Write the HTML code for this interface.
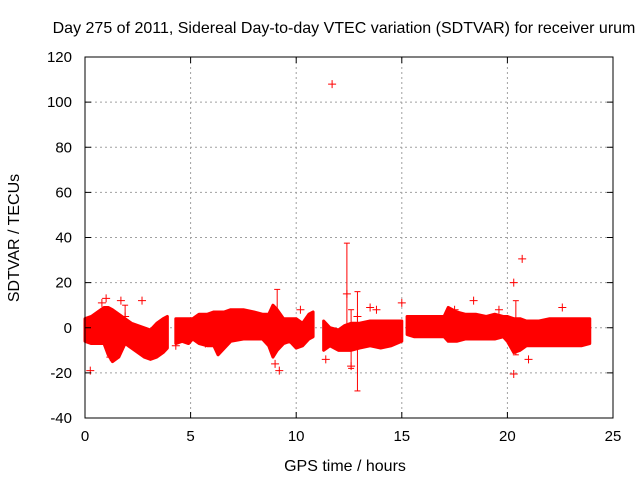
<!DOCTYPE html>
<html><head><meta charset="utf-8"><style>
body{margin:0;background:#fff;}
svg{display:block;font-family:"Liberation Sans",sans-serif;}
</style></head><body>
<svg id="chart" width="640" height="480">
<text x="344" y="33" font-size="16" text-anchor="middle">Day 275 of 2011, Sidereal Day-to-day VTEC variation (SDTVAR) for receiver urum</text>
<text x="345" y="471" font-size="16" text-anchor="middle">GPS time / hours</text>
<text transform="translate(19,238) rotate(-90)" font-size="16" text-anchor="middle">SDTVAR / TECUs</text>
<g id="grid"></g><g id="marks"></g><g id="axes"></g>
</svg>
<script>
const xTicks=[0,5,10,15,20,25];
const yTicks=[-40,-20,0,20,40,60,80,100,120];
const bandTimes=[0,0.3,0.6,0.9,1.1,1.3,1.6,1.9,2.2,2.5,2.8,3.1,3.4,3.7,3.9,4.0,4.3,4.6,4.9,5.1,5.4,5.8,6.1,6.3,6.6,6.9,7.5,8.0,8.4,8.7,8.9,9.1,9.4,9.7,10.0,10.3,10.6,10.8,10.9,11.3,11.6,12.0,12.3,12.6,13.0,13.5,14.0,14.5,15.0,15.1,15.25,15.6,16.0,16.5,17.0,17.2,17.6,18.0,18.5,19.0,19.4,19.8,20.0,20.3,20.6,20.9,21.5,22.0,22.5,23.0,23.5,23.9];
const bandUpper=[4,5,7,9,9,8,6,4,2,1,0,-1,2,4,5,null,4,4,4,4,6,6,7,7,7,8,8,7,6,6,10,8,4,4,4,2,6,7,null,3,0,-1,1,2,2,3,3,3,3,null,5,5,5,5,5,9,7,6,6,5,6,5,5,4,4,3,3,4,4,4,4,4];
const bandLower=[-6,-7,-7,-7,-12,-15,-13,-7,-9,-11,-13,-14,-13,-11,-9,null,-7,-6,-7,-5,-7,-8,-8,-12,-9,-6,-5,-5,-5,-8,-13,-10,-7,-6,-9,-8,-5,-4,null,-10,-8,-10,-10,-10,-9,-8,-9,-8,-6,null,-3,-4,-4,-4,-4,-6,-6,-5,-5,-5,-5,-4,-6,-11,-10,-8,-8,-8,-8,-8,-8,-7];
const outT=[11.7,20.7,20.3,0.25,9.2,2.7,1.0,1.7,18.4,13.5,15.0,12.6,11.4,20.3,22.6,0.8,1.2,4.3,5.7,9.0,10.2,13.8,17.5,19.6,21.0];
const outV=[108,30.5,20,-19,-19,12,13,12,12,9,11,-17,-14,-20.5,9,11,-13,-8,-7,-16,8,8,8,8,-14];
const ebT=[12.4,12.9,9.1,12.6,1.9,20.4];
const ebV=[15,5,5,-5,5,0];
const ebLo=[-8,-28,-5,-18,-3,-12];
const ebHi=[37.5,16,17,8,10,12];

const X0=85,X1=613,Y0=418,Y1=57;
const xs=t=>X0+(t-0)/25*(X1-X0);
const ys=v=>Y0-(v+40)/160*(Y0-Y1);
const NS="http://www.w3.org/2000/svg";
function mk(tag,attrs,parent){const e=document.createElementNS(NS,tag);for(const k in attrs)e.setAttribute(k,attrs[k]);parent.appendChild(e);return e;}
const grid=document.getElementById('grid'),marks=document.getElementById('marks'),axes=document.getElementById('axes');
xTicks.forEach(t=>{
  if(t>0&&t<25){const g=mk('line',{x1:xs(t),x2:xs(t),y1:Y1,y2:Y0,stroke:'#a0a0a0','stroke-dasharray':'2,3'},grid);
  
  }
  const l=mk('text',{x:xs(t),y:Y0+23,'font-size':15,'text-anchor':'middle'},axes);l.textContent=t;
  
  
  mk('line',{x1:xs(t),x2:xs(t),y1:Y0,y2:Y0-6,stroke:'#000'},axes);
  mk('line',{x1:xs(t),x2:xs(t),y1:Y1,y2:Y1+6,stroke:'#000'},axes);
});
yTicks.forEach(v=>{
  if(v>-40&&v<120){const g=mk('line',{x1:X0,x2:X1,y1:ys(v),y2:ys(v),stroke:'#a0a0a0','stroke-dasharray':'2,3'},grid);
  
  }
  const l=mk('text',{x:X0-13,y:ys(v)+5,'font-size':15,'text-anchor':'end'},axes);l.textContent=v;
  
  
  mk('line',{x1:X0,x2:X0+6,y1:ys(v),y2:ys(v),stroke:'#000'},axes);
  mk('line',{x1:X1,x2:X1-6,y1:ys(v),y2:ys(v),stroke:'#000'},axes);
});
const fr=mk('rect',{x:X0,y:Y1,width:X1-X0,height:Y0-Y1,fill:'none',stroke:'#000'},axes);


let seg=[];
function flush(){
  if(seg.length<2){seg=[];return;}
  let d='M'+seg.map(i=>xs(bandTimes[i])+','+ys(bandUpper[i])).join('L');
  d+='L'+seg.slice().reverse().map(i=>xs(bandTimes[i])+','+ys(bandLower[i])).join('L')+'Z';
  const p=mk('path',{d:d,fill:'#f00',stroke:'#f00','stroke-width':3,'stroke-linejoin':'round'},marks);
  
  
  seg=[];
}
bandTimes.forEach((t,i)=>{if(bandUpper[i]===null)flush();else seg.push(i);});
flush();
function plus(x,y,parent){mk('path',{d:`M${x-4},${y}h8M${x},${y-4}v8`,stroke:'#f00','stroke-width':1},parent);}
ebT.forEach((t,i)=>{
  const g=mk('g',{},marks);
  
  
  const x=xs(t);
  mk('line',{x1:x,x2:x,y1:ys(ebLo[i]),y2:ys(ebHi[i]),stroke:'#f00'},g);
  mk('line',{x1:x-3,x2:x+3,y1:ys(ebLo[i]),y2:ys(ebLo[i]),stroke:'#f00'},g);
  mk('line',{x1:x-3,x2:x+3,y1:ys(ebHi[i]),y2:ys(ebHi[i]),stroke:'#f00'},g);
  plus(x,ys(ebV[i]),g);
});
outT.forEach((t,i)=>{
  const g=mk('g',{},marks);
  
  
  plus(xs(t),ys(outV[i]),g);
});
</script>
</body></html>
